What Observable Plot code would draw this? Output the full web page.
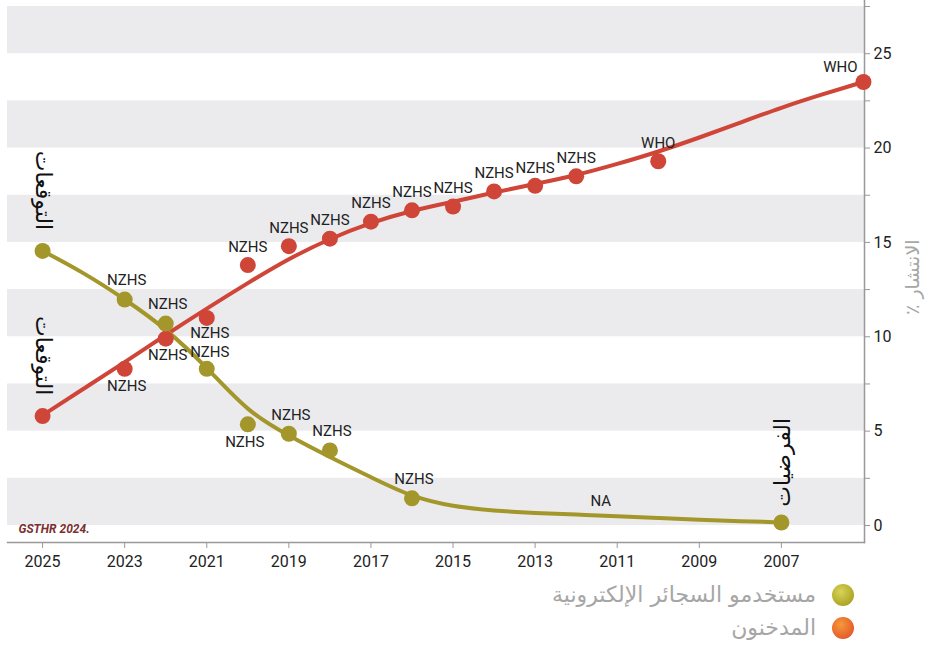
<!DOCTYPE html>
<html>
<head>
<meta charset="utf-8">
<script src="https://cdn.jsdelivr.net/npm/d3@7"></script>
<script src="https://cdn.jsdelivr.net/npm/@observablehq/plot@0.6"></script>
<style>
  html, body { margin: 0; padding: 0; background: #fff; }
  body { width: 928px; font-family: Roboto, "DejaVu Sans", sans-serif; }
  #chart svg { display: block; }
  .legend { direction: rtl; padding-right: 74px; margin-top: 3px; }
  .legend .row { display: flex; align-items: center; height: 33px; gap: 16px; }
  .legend .sw { width: 22px; height: 22px; border-radius: 50%; flex: none; }
  .legend .lab { font-family: "DejaVu Sans", "Noto Sans", sans-serif; font-size: 22px; color: #a6a6a6; line-height: 1; }
</style>
</head>
<body>
<div id="chart"></div>
<div class="legend" id="legend"></div>
<script>
// ---- data ----
const smokerYears   = [2025, 2023, 2022, 2021, 2020, 2019, 2018, 2017, 2016, 2015, 2014, 2013, 2012, 2010, 2005];
const smokerValues  = [5.8, 8.3, 9.9, 11.0, 13.8, 14.8, 15.2, 16.1, 16.7, 16.9, 17.7, 18.0, 18.5, 19.3, 23.5];
const smokerSources = ["", "NZHS", "NZHS", "NZHS", "NZHS", "NZHS", "NZHS", "NZHS", "NZHS", "NZHS", "NZHS", "NZHS", "NZHS", "WHO", "WHO"];

const vaperYears   = [2025, 2023, 2022, 2021, 2020, 2019, 2018, 2016, 2007];
const vaperValues  = [14.55, 11.97, 10.7, 8.3, 5.36, 4.86, 3.98, 1.44, 0.16];
const vaperSources = ["", "NZHS", "NZHS", "NZHS", "NZHS", "NZHS", "NZHS", "NZHS", ""];

// fitted trend curves as drawn in the reference
const trendYears        = [2025, 2024, 2023, 2022, 2021, 2020, 2019, 2018, 2017, 2016, 2015, 2014, 2013, 2012, 2011, 2010, 2009, 2008, 2007, 2006, 2005];
const smokerTrendValues = [5.84, 7.25, 8.65, 10.1, 11.5, 12.85, 14.15, 15.2, 16.05, 16.7, 17.15, 17.65, 18.1, 18.55, 19.15, 19.8, 20.55, 21.35, 22.15, 22.85, 23.5];
const vaperTrendYears   = [2025, 2024, 2023, 2022, 2021, 2020, 2019, 2018, 2017, 2016, 2015, 2014, 2013, 2012, 2011, 2010, 2009, 2008, 2007];
const vaperTrendValues  = [14.55, 13.4, 12.0, 10.45, 8.4, 6.0, 4.75, 3.62, 2.56, 1.5, 1.0, 0.78, 0.66, 0.58, 0.5, 0.4, 0.3, 0.22, 0.17];

const xTicks = [2025, 2023, 2021, 2019, 2017, 2015, 2013, 2011, 2009, 2007];
const yTicks = [0, 2.5, 5, 7.5, 10, 12.5, 15, 17.5, 20, 22.5, 25, 27.5];
const bandStarts = [0, 5, 10, 15, 20, 25];

const notes = [
  {year: 2025, value: 17.75, text: "التوقعات", rot: 90},
  {year: 2025, value: 9.0, text: "التوقعات", rot: 90},
  {year: 2006.95, value: 3.35, text: "الفرضيات", rot: -90}
];
const naNote = [{year: 2011.4, value: 1.3, text: "NA"}];

const seriesNames = ["مستخدمو السجائر الإلكترونية", "المدخنون"];
const yLabel = "الانتشار ٪";
const caption = "GSTHR 2024.";

// ---- build tables ----
const smokers = smokerYears.map((y, i) => ({year: y, value: smokerValues[i], src: smokerSources[i]}));
const vapers = vaperYears.map((y, i) => ({year: y, value: vaperValues[i], src: vaperSources[i]}));
const smokerTrend = trendYears.map((y, i) => ({year: y, value: smokerTrendValues[i]}));
const vaperTrend = vaperTrendYears.map((y, i) => ({year: y, value: vaperTrendValues[i]}));

const RED = "#cf4538";
const OLIVE = "#a3962a";
const labelFont = "Roboto, 'DejaVu Sans', sans-serif";
const FS = 15;

const W = 928, H = 575;
const chart = Plot.plot({
  width: W,
  height: H,
  marginLeft: 7,
  marginRight: 64,
  marginTop: 0,
  marginBottom: 33,
  style: {fontFamily: labelFont, background: "#fff"},
  x: {domain: [2025.855, 2004.975]},
  y: {domain: [0, 27.5], range: [525, 6]},
  marks: [
    Plot.rect(bandStarts, {y1: d => d, y2: d => d + 2.5, fill: "#ebebee"}),
    Plot.frame({anchor: "bottom", stroke: "#999", strokeWidth: 1.5}),
    Plot.frame({anchor: "right", stroke: "#999", strokeWidth: 1.5}),
    Plot.axisX({anchor: "bottom", ticks: xTicks, tickFormat: d => String(d), tickSize: 6, tickPadding: 7,
      fontSize: 16, stroke: "#999", fill: "#222", label: null}),
    Plot.axisY({anchor: "right", ticks: yTicks, tickFormat: d => (d % 5 === 0 ? String(d) : ""), tickSize: 5, tickPadding: 4,
      fontSize: 16, stroke: "#999", fill: "#222", label: null}),
    Plot.line(smokerTrend, {x: "year", y: "value", stroke: RED, strokeWidth: 4, curve: "basis"}),
    Plot.line(vaperTrend, {x: "year", y: "value", stroke: OLIVE, strokeWidth: 4, curve: "basis"}),
    Plot.dot(smokers, {x: "year", y: "value", r: 8, fill: RED}),
    Plot.dot(vapers, {x: "year", y: "value", r: 8, fill: OLIVE}),
    // smokers labels
    Plot.text(smokers.filter(d => d.src && d.year > 2021), {x: "year", y: "value", text: "src", dy: 17, dx: 2, fontSize: FS, fill: "#222"}),
    Plot.text(smokers.filter(d => d.year === 2021), {x: "year", y: "value", text: "src", dy: 15, dx: 3, fontSize: FS, fill: "#222"}),
    Plot.text(smokers.filter(d => d.src && d.year < 2021 && d.year > 2005), {x: "year", y: "value", text: "src", dy: -18, fontSize: FS, fill: "#222"}),
    Plot.text(smokers.filter(d => d.year === 2005), {x: "year", y: "value", text: "src", dy: -15, dx: -23, fontSize: FS, fill: "#222"}),
    // vapers labels
    Plot.text(vapers.filter(d => d.src && d.year !== 2020 && d.year !== 2021), {x: "year", y: "value", text: "src", dy: -19, dx: 2, fontSize: FS, fill: "#222"}),
    Plot.text(vapers.filter(d => d.year === 2021), {x: "year", y: "value", text: "src", dy: -17, dx: 3, fontSize: FS, fill: "#222"}),
    Plot.text(vapers.filter(d => d.year === 2020), {x: "year", y: "value", text: "src", dy: 18, dx: -3, fontSize: FS, fill: "#222"}),
    Plot.text(naNote, {x: "year", y: "value", text: "text", fontSize: FS, fill: "#222"}),
    // rotated annotations
    Plot.text(notes.filter(d => d.rot === 90), {x: "year", y: "value", text: "text", rotate: 90, fontSize: 22, fill: "#111", fontFamily: "'DejaVu Sans', sans-serif"}),
    Plot.text(notes.filter(d => d.rot === -90), {x: "year", y: "value", text: "text", rotate: -90, fontSize: 22, fill: "#111", fontFamily: "'DejaVu Sans', sans-serif"}),
    // y axis label (RLM keeps the percent sign at the end of the right-to-left run)
    Plot.text([yLabel + "\u200F"], {frameAnchor: "right", text: d => d, dx: 48, dy: -32, rotate: -90, fontSize: 19, fill: "#a6a6a6", fontFamily: "'DejaVu Sans', sans-serif"}),
    // source caption
    Plot.text([caption], {frameAnchor: "bottom-left", text: d => d, dx: 11, dy: -10, textAnchor: "start", fontSize: 12, fontWeight: "bold", fontStyle: "italic", fill: "#7b2f2f"})
  ]
});
document.getElementById("chart").appendChild(chart);

// ---- legend ----
const swatches = [
  "radial-gradient(circle at 40% 35%, #d6d45a 0%, #b8b030 55%, #9c9420 100%)",
  "radial-gradient(circle at 40% 35%, #f49a3a 0%, #ea6a2e 55%, #d8492a 100%)"
];
const legend = document.getElementById("legend");
seriesNames.forEach((name, i) => {
  const row = document.createElement("div");
  row.className = "row";
  const sw = document.createElement("div");
  sw.className = "sw";
  sw.style.background = swatches[i];
  const lab = document.createElement("div");
  lab.className = "lab";
  lab.textContent = name;
  row.appendChild(sw);
  row.appendChild(lab);
  legend.appendChild(row);
});
</script>
</body>
</html>
